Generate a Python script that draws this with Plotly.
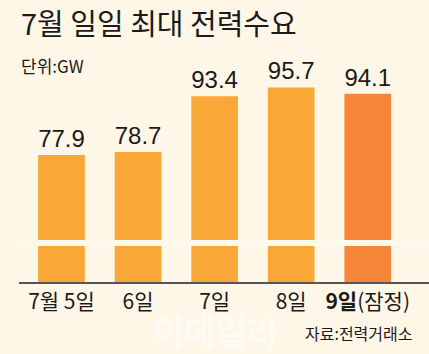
import plotly.graph_objects as go

categories = ["7월 5일", "6일", "7일", "8일", "<b>9일</b>(잠정)"]
values = [77.9, 78.7, 93.4, 95.7, 94.1]
labels = ["77.9", "78.7", "93.4", "95.7", "94.1"]
bar_colors = ["#F9A736", "#F9A736", "#F9A736", "#F9A736", "#F5863A"]

BG = "#FEF6E6"

fig = go.Figure()
fig.add_trace(go.Bar(
    x=list(range(len(categories))),
    y=values,
    marker=dict(color=bar_colors, line=dict(width=0)),
    width=0.61,
    text=labels,
    textposition="outside",
    cliponaxis=False,
    textfont=dict(family="Liberation Sans Narrow, Liberation Sans, Arial", size=28, color="#1a1a1a"),
    hoverinfo="skip",
))

fig.update_layout(
    width=429, height=354,
    margin=dict(l=19, r=0, t=60, b=72),
    paper_bgcolor=BG, plot_bgcolor=BG,
    showlegend=False,
    xaxis=dict(
        tickmode="array",
        tickvals=list(range(len(categories))),
        ticktext=categories,
        range=[-0.555, 4.80],
        showgrid=False, zeroline=False,
        showline=True, linecolor="#555555", linewidth=1.5,
        ticks="", ticklen=0,
        tickfont=dict(family="Noto Sans CJK KR", size=21, color="#1a1a1a"),
    ),
    yaxis=dict(range=[44.3, 103.0], visible=False, showgrid=False, zeroline=False),
    shapes=[dict(
        type="rect", xref="paper", yref="paper",
        x0=0, x1=1, y0=0.162, y1=0.189,
        fillcolor="#FFF9EC", line=dict(width=0), layer="above",
    )],
    annotations=[
        dict(text="7월 일일 최대 전력수요", xref="paper", yref="paper",
             x=0, y=(282-22)/222, xanchor="left", yanchor="middle", showarrow=False,
             font=dict(family="Noto Sans CJK KR", size=29, color="#1a1a1a")),
        dict(text="단위:GW", xref="paper", yref="paper",
             x=0, y=(282-65)/222, xanchor="left", yanchor="middle", showarrow=False,
             font=dict(family="Noto Sans CJK KR", size=17, color="#1a1a1a")),
        dict(text="자료:전력거래소", xref="paper", yref="paper",
             x=(415-19)/410, y=(282-333)/222, xanchor="right", yanchor="middle", showarrow=False,
             font=dict(family="Noto Sans CJK KR", size=16, color="#1a1a1a")),
        dict(text="<b>이데일리</b>", xref="paper", yref="paper",
             x=(215-19)/410, y=(282-330)/222, xanchor="center", yanchor="middle", showarrow=False,
             opacity=0.6,
             font=dict(family="Noto Sans CJK KR", size=34, color="#FFFFFF")),
    ],
)

fig.write_html("out.html")
